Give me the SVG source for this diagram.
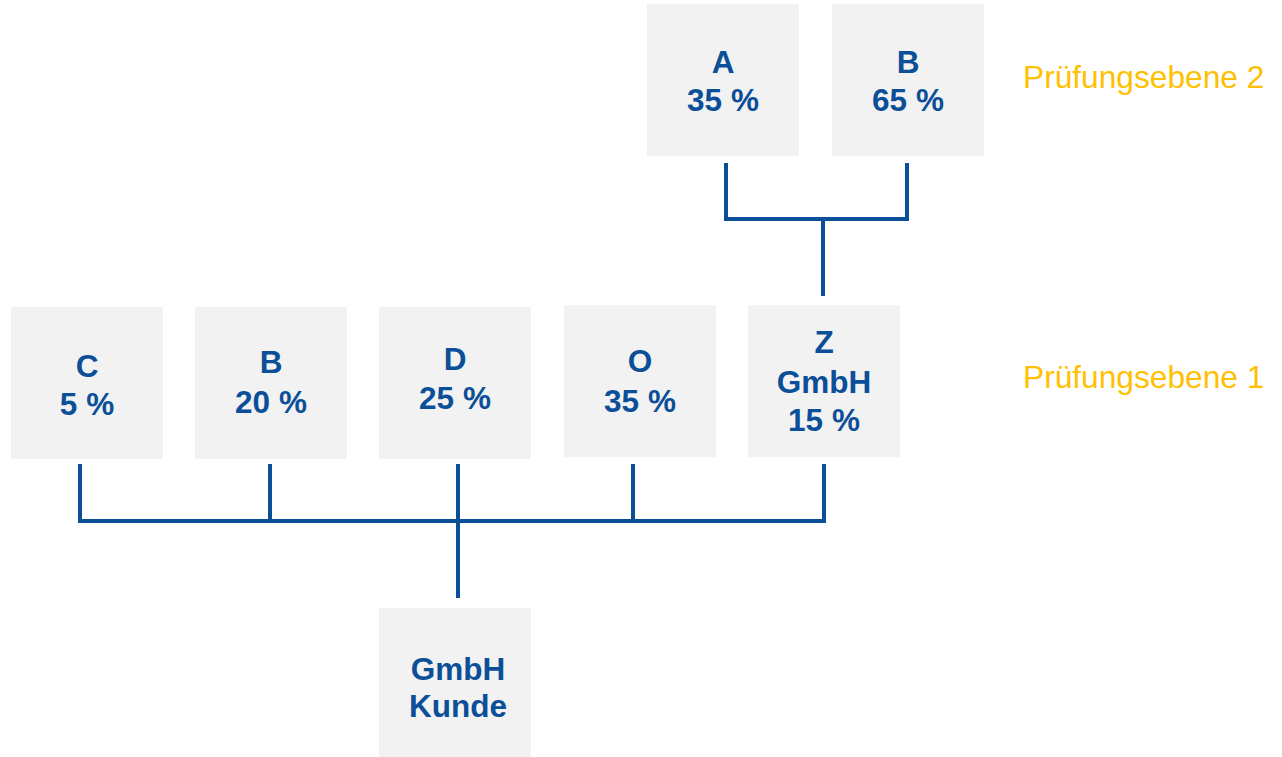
<svg xmlns="http://www.w3.org/2000/svg" width="1282" height="757" viewBox="0 0 1282 757">
<style>
.box{fill:#F2F2F2}
.t{font-family:"Liberation Sans",Arial,sans-serif;font-weight:bold;font-size:31.5px;fill:#0B4F98;text-anchor:middle}
.lvl{font-family:"Liberation Sans",Arial,sans-serif;font-size:31.7px;fill:#FFC000}
.c{stroke:#0B4F98;stroke-width:4;fill:none;stroke-linejoin:miter;stroke-linecap:butt}
</style>
<rect width="1282" height="757" fill="#fff"/>
<g id="connectors">
<path class="c" d="M726 163V219H907V163M823 219V296"/>
<path class="c" d="M80 464V521H824V464M270 464V521M458 464V598M633 464V521"/>
</g>
<g id="nA"><rect class="box" x="647" y="4" width="152" height="152"/><text class="t" x="723" y="73">A</text><text class="t" x="723" y="111">35 %</text></g>
<g id="nB2"><rect class="box" x="832" y="4" width="152" height="152"/><text class="t" x="908" y="73">B</text><text class="t" x="908" y="111">65 %</text></g>
<g id="nC"><rect class="box" x="11" y="307" width="152" height="152"/><text class="t" x="87" y="377">C</text><text class="t" x="87" y="415">5 %</text></g>
<g id="nB"><rect class="box" x="195" y="307" width="152" height="152"/><text class="t" x="271" y="373">B</text><text class="t" x="271" y="413">20 %</text></g>
<g id="nD"><rect class="box" x="379" y="307" width="152" height="152"/><text class="t" x="455" y="370">D</text><text class="t" x="455" y="409">25 %</text></g>
<g id="nO"><rect class="box" x="564" y="305" width="152" height="152"/><text class="t" x="640" y="372">O</text><text class="t" x="640" y="412">35 %</text></g>
<g id="nZ"><rect class="box" x="748" y="305" width="152" height="152"/><text class="t" x="824" y="353">Z</text><text class="t" x="824" y="393">GmbH</text><text class="t" x="824" y="431">15 %</text></g>
<g id="nKunde"><rect class="box" x="379" y="608" width="152" height="149"/><text class="t" x="458" y="680">GmbH</text><text class="t" x="458" y="717">Kunde</text></g>
<g id="levels"><text class="lvl" x="1023" y="88">Prüfungsebene 2</text><text class="lvl" x="1023" y="388">Prüfungsebene 1</text></g>
</svg>
